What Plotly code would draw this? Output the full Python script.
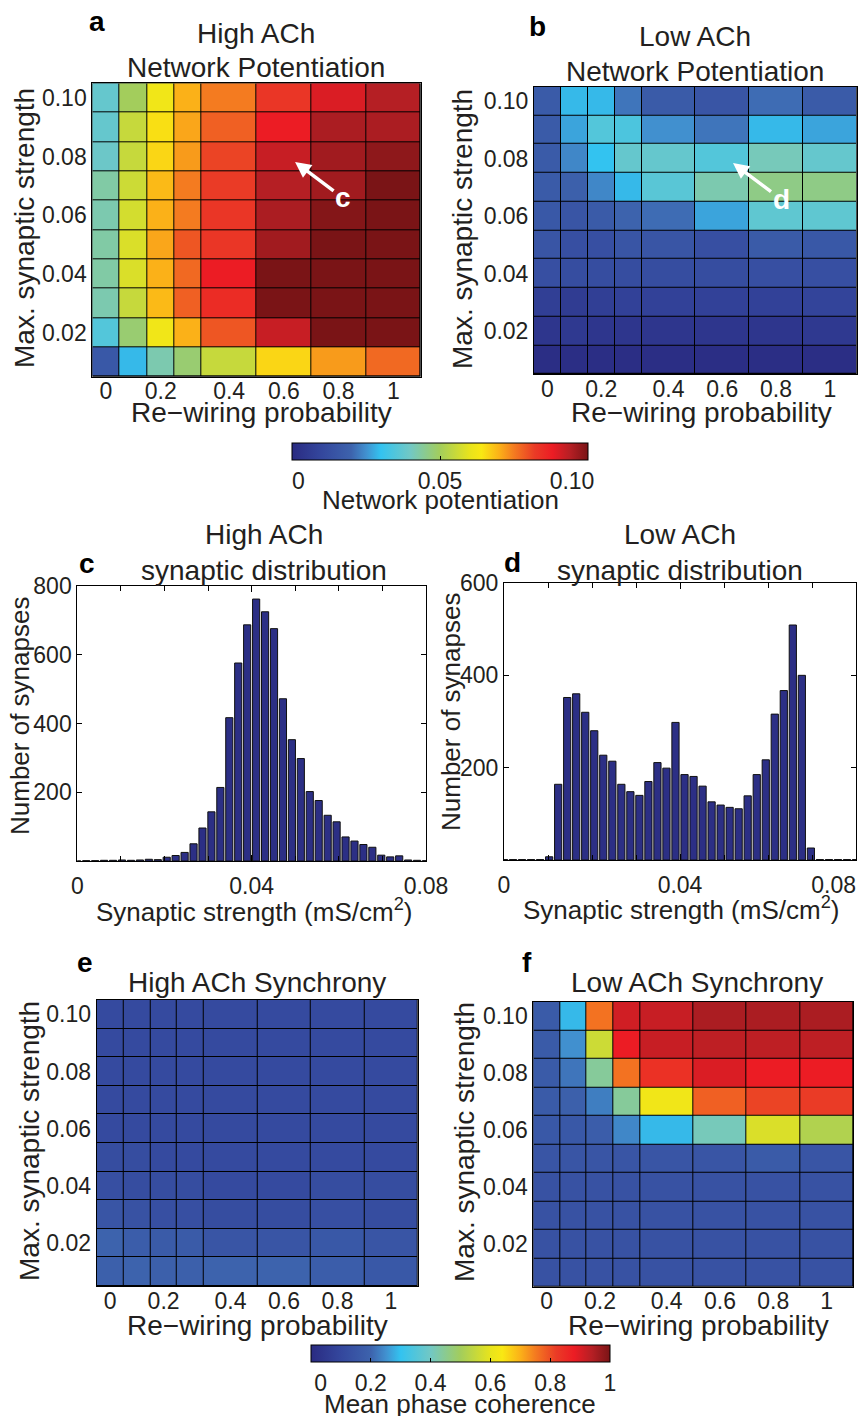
import plotly.graph_objects as go

W, H = 860, 1416

# ---------------- data ----------------
rewire_p = [0, 0.1, 0.2, 0.3, 0.4, 0.6, 0.8, 1.0]
col_widths = [1, 1, 1, 1, 2, 2, 2, 2]          # drawn widths of the columns
max_syn = [0.10, 0.09, 0.08, 0.07, 0.06, 0.05, 0.04, 0.03, 0.02, 0.01]   # rows top -> bottom
x_tick_p = [0, 0.2, 0.4, 0.6, 0.8, 1.0]
x_tick_labels = ["0", "0.2", "0.4", "0.6", "0.8", "1"]
y_tick_vals = [0.02, 0.04, 0.06, 0.08, 0.10]
y_tick_labels = ["0.02", "0.04", "0.06", "0.08", "0.10"]

# network potentiation, rows top (0.10) -> bottom (0.01)
pot_high = [
    [0.038, 0.050, 0.062, 0.070, 0.075, 0.083, 0.090, 0.094],
    [0.038, 0.055, 0.065, 0.071, 0.078, 0.088, 0.095, 0.095],
    [0.039, 0.055, 0.066, 0.072, 0.081, 0.092, 0.096, 0.098],
    [0.043, 0.056, 0.069, 0.075, 0.082, 0.094, 0.096, 0.100],
    [0.042, 0.057, 0.070, 0.075, 0.083, 0.095, 0.099, 0.100],
    [0.043, 0.058, 0.071, 0.079, 0.083, 0.096, 0.100, 0.100],
    [0.043, 0.058, 0.070, 0.077, 0.088, 0.100, 0.100, 0.100],
    [0.042, 0.055, 0.069, 0.078, 0.085, 0.100, 0.100, 0.100],
    [0.035, 0.048, 0.062, 0.070, 0.079, 0.092, 0.100, 0.100],
    [0.016, 0.029, 0.042, 0.048, 0.055, 0.066, 0.072, 0.077],
]
pot_low = [
    [0.017, 0.029, 0.029, 0.022, 0.017, 0.015, 0.021, 0.017],
    [0.017, 0.027, 0.035, 0.034, 0.025, 0.022, 0.029, 0.027],
    [0.017, 0.024, 0.030, 0.038, 0.038, 0.035, 0.041, 0.038],
    [0.017, 0.019, 0.024, 0.029, 0.036, 0.042, 0.046, 0.046],
    [0.016, 0.015, 0.017, 0.020, 0.021, 0.027, 0.037, 0.037],
    [0.015, 0.013, 0.013, 0.015, 0.015, 0.013, 0.017, 0.016],
    [0.013, 0.012, 0.012, 0.012, 0.012, 0.012, 0.013, 0.013],
    [0.007, 0.006, 0.007, 0.008, 0.008, 0.008, 0.008, 0.009],
    [0.004, 0.005, 0.004, 0.004, 0.004, 0.004, 0.004, 0.005],
    [0.001, 0.001, 0.001, 0.001, 0.001, 0.001, 0.001, 0.001],
]
# mean phase coherence
sync_high = [
    [0.11, 0.11, 0.11, 0.11, 0.11, 0.11, 0.11, 0.11],
    [0.11, 0.11, 0.11, 0.11, 0.11, 0.11, 0.11, 0.11],
    [0.11, 0.11, 0.11, 0.11, 0.11, 0.11, 0.11, 0.11],
    [0.11, 0.11, 0.11, 0.11, 0.11, 0.11, 0.11, 0.11],
    [0.11, 0.11, 0.11, 0.11, 0.11, 0.11, 0.11, 0.11],
    [0.12, 0.12, 0.11, 0.11, 0.11, 0.11, 0.11, 0.11],
    [0.13, 0.12, 0.12, 0.12, 0.11, 0.11, 0.12, 0.12],
    [0.15, 0.14, 0.13, 0.13, 0.12, 0.12, 0.13, 0.12],
    [0.20, 0.18, 0.17, 0.17, 0.15, 0.15, 0.16, 0.15],
    [0.19, 0.20, 0.19, 0.19, 0.20, 0.20, 0.18, 0.16],
]
sync_low = [
    [0.17, 0.29, 0.76, 0.91, 0.92, 0.95, 0.95, 0.95],
    [0.17, 0.25, 0.56, 0.88, 0.92, 0.93, 0.93, 0.93],
    [0.17, 0.22, 0.44, 0.76, 0.84, 0.90, 0.88, 0.88],
    [0.17, 0.19, 0.23, 0.44, 0.62, 0.78, 0.81, 0.82],
    [0.16, 0.16, 0.18, 0.24, 0.29, 0.41, 0.58, 0.52],
    [0.15, 0.15, 0.15, 0.15, 0.15, 0.15, 0.17, 0.15],
    [0.14, 0.14, 0.14, 0.14, 0.14, 0.14, 0.14, 0.14],
    [0.14, 0.14, 0.14, 0.14, 0.14, 0.14, 0.14, 0.14],
    [0.14, 0.14, 0.14, 0.14, 0.14, 0.14, 0.14, 0.14],
    [0.14, 0.14, 0.14, 0.14, 0.14, 0.14, 0.14, 0.14],
]

# synaptic strength histograms
hist_bins = [0.0, 0.00205, 0.0041, 0.00615, 0.00821, 0.01026, 0.01231, 0.01436,
             0.01641, 0.01846, 0.02051, 0.02256, 0.02462, 0.02667, 0.02872, 0.03077,
             0.03282, 0.03487, 0.03692, 0.03897, 0.04103, 0.04308, 0.04513, 0.04718,
             0.04923, 0.05128, 0.05333, 0.05538, 0.05744, 0.05949, 0.06154, 0.06359,
             0.06564, 0.06769, 0.06974, 0.07179, 0.07385, 0.0759, 0.07795, 0.08]
hist_high = [0, 1, 1, 2, 2, 3, 2, 3, 5, 4, 11, 16, 25, 50, 96, 143, 214, 417, 576, 687,
             762, 725, 676, 472, 353, 298, 202, 176, 133, 114, 70, 58, 48, 40, 17, 12,
             15, 3, 2, 1]
hist_low = [1, 1, 1, 1, 1, 7, 164, 352, 360, 320, 280, 227, 214, 164, 148, 140, 170,
            211, 199, 298, 185, 181, 160, 126, 119, 114, 111, 139, 185, 217, 316, 367,
            509, 400, 26, 1, 1, 1, 1, 1]
hist_x_ticks = [0, 0.04, 0.08]
hist_x_labels_c = ["0", "0.04", "0.08"]
hist_x_labels_d = ["0", "0.04", "0.08" + "\u00a0" * 7]
pot_cbar_ticks = [0, 0.05, 0.10]
pot_cbar_labels = ["\u00a0\u00a00", "0.05", "0.10" + "\u00a0" * 5]
sync_cbar_ticks = [0, 0.2, 0.4, 0.6, 0.8, 1.0]
sync_cbar_labels = ["\u00a0\u00a0\u00a00", "0.2", "0.4", "0.6", "0.8", "1"]

# ---------------- styling ----------------
FONT = "Liberation Sans, Arial, sans-serif"
TXT = "#231f20"
TICK_SIZE = 23
TITLE_SIZE = 28

cscale = [[0.0, "#2a2b82"], [0.1, "#34479d"], [0.2, "#3d63ad"], [0.25, "#4190cf"],
          [0.3, "#33c3f0"], [0.4, "#72c8c4"], [0.5, "#a3cd5c"], [0.6, "#e8e41c"],
          [0.64, "#f9e813"], [0.7, "#fbb118"], [0.75, "#f47b20"], [0.82, "#ea3b26"],
          [0.88, "#ec1c24"], [0.94, "#b51f24"], [1.0, "#7a1416"]]

# column edges and centres (drawing units)
x_edges = [0]
for w in col_widths:
    x_edges.append(x_edges[-1] + w)
x_centres = [(x_edges[i] + x_edges[i + 1]) / 2 for i in range(len(col_widths))]
tick_pos = [x_centres[rewire_p.index(p)] for p in x_tick_p]
rows_bottom_up = max_syn[::-1]
dy = max_syn[0] - max_syn[1]
y_edges = [rows_bottom_up[0] - dy / 2] + [v + dy / 2 for v in rows_bottom_up]


def xd(l, r):
    return [l / W, r / W]


def yd(t, b):
    return [1 - b / H, 1 - t / H]


panels = {
    "a": dict(x=xd(92.3, 420.7), y=yd(83.3, 376.7)),
    "b": dict(x=xd(534, 856.7), y=yd(86.7, 374)),
    "c": dict(x=xd(77.3, 426), y=yd(586, 861)),
    "d": dict(x=xd(504, 856), y=yd(583, 860)),
    "e": dict(x=xd(96.7, 417.7), y=yd(1000, 1286)),
    "f": dict(x=xd(533.3, 853.3), y=yd(1001.7, 1286.7)),
}

fig = go.Figure()

heat_specs = [("a", pot_high, "coloraxis", ""), ("b", pot_low, "coloraxis", "2"),
              ("e", sync_high, "coloraxis2", "5"), ("f", sync_low, "coloraxis2", "6")]
for name, z, cax, n in heat_specs:
    fig.add_trace(go.Heatmap(z=z[::-1], x=x_edges, y=y_edges, coloraxis=cax,
                             xgap=1, ygap=1, xaxis="x" + n, yaxis="y" + n,
                             hoverinfo="skip"))
    fig.add_shape(type="rect", xref="x" + n + " domain", yref="y" + n + " domain",
                  x0=0, x1=1, y0=0, y1=1, fillcolor="black", line_width=0,
                  layer="below")

for n, counts in [("3", hist_high), ("4", hist_low)]:
    fig.add_trace(go.Bar(x=hist_bins, y=counts, xaxis="x" + n, yaxis="y" + n,
                         marker=dict(color="#2c2f85", line=dict(color="#111111", width=1)),
                         hoverinfo="skip"))

axis_common = dict(showline=True, linecolor="black", linewidth=1, mirror=True,
                   showgrid=False, zeroline=False,
                   tickfont=dict(family=FONT, size=TICK_SIZE, color=TXT))

heat_x = dict(axis_common, range=[x_edges[0], x_edges[-1]], tickvals=tick_pos,
              ticktext=x_tick_labels, ticks="", ticklabelstandoff=-6)
heat_y = dict(axis_common, range=[y_edges[0], y_edges[-1]], tickvals=y_tick_vals,
              ticktext=y_tick_labels, ticks="")

layout = dict(width=W, height=H, margin=dict(l=0, r=0, t=0, b=0, autoexpand=False),
              paper_bgcolor="white", plot_bgcolor="white", showlegend=False,
              bargap=0.2)

for key, n in [("a", ""), ("b", "2"), ("e", "5"), ("f", "6")]:
    layout["xaxis" + n] = dict(heat_x, domain=panels[key]["x"], anchor="y" + n)
    layout["yaxis" + n] = dict(heat_y, domain=panels[key]["y"], anchor="x" + n)

for key, n, ymax, ytv, xlab in [("c", "3", 800, [200, 400, 600, 800], hist_x_labels_c),
                                ("d", "4", 600, [200, 400, 600], hist_x_labels_d)]:
    layout["xaxis" + n] = dict(axis_common, domain=panels[key]["x"], anchor="y" + n,
                               range=[0, 0.08], tickvals=hist_x_ticks,
                               ticktext=xlab, ticks="inside", ticklen=6,
                               tickcolor="black", mirror="ticks",
                               ticklabelstandoff=4, ticklabeloverflow="allow",
                               minor=dict(ticks="inside", dtick=0.01, ticklen=5,
                                          tickcolor="black"))
    layout["yaxis" + n] = dict(axis_common, domain=panels[key]["y"], anchor="x" + n,
                               range=[0, ymax], tickvals=ytv, ticks="inside",
                               ticklen=5, tickcolor="black", mirror="ticks")

cbar_common = dict(orientation="h", lenmode="pixels", thicknessmode="pixels",
                   thickness=17, xanchor="left", yanchor="top", xpad=0, ypad=0,
                   outlinecolor="black", outlinewidth=1, ticks="inside", ticklen=4,
                   tickcolor="black", ticklabeloverflow="allow",
                   tickfont=dict(family=FONT, size=TICK_SIZE, color=TXT))
layout["coloraxis"] = dict(colorscale=cscale, cmin=0, cmax=0.10,
                           colorbar=dict(cbar_common, x=292 / W, y=1 - 443 / H, len=296,
                                         tickvals=pot_cbar_ticks, ticktext=pot_cbar_labels))
layout["coloraxis2"] = dict(colorscale=cscale, cmin=0, cmax=1.0,
                            colorbar=dict(cbar_common, x=311 / W, y=1 - 1345 / H, len=299,
                                          tickvals=sync_cbar_ticks, ticktext=sync_cbar_labels))

fig.update_layout(**layout)


def text(px, py, s, size=TITLE_SIZE, bold=False, angle=0, color=TXT):
    fig.add_annotation(x=px / W, y=1 - py / H, xref="paper", yref="paper",
                       text=("<b>%s</b>" % s) if bold else s, showarrow=False,
                       textangle=angle, xanchor="center", yanchor="middle",
                       font=dict(family=FONT, size=size, color=color))


# panel letters
for s, px, py in [("a", 97, 22), ("b", 537, 27), ("c", 87, 563), ("d", 512, 562),
                  ("e", 85, 962), ("f", 527, 962)]:
    text(px, py, s, size=28, bold=True, color="black")

# titles
text(256, 33, "High ACh")
text(256, 68, "Network Potentiation")
text(695, 37, "Low ACh")
text(695, 71, "Network Potentiation")
text(264, 535, "High ACh")
text(264, 570, "synaptic distribution")
text(680, 535, "Low ACh")
text(680, 570, "synaptic distribution")
text(257, 982, "High ACh Synchrony")
text(697, 982, "Low ACh Synchrony")

# axis titles
text(24, 228, "Max. synaptic strength", angle=-90)
text(462, 229, "Max. synaptic strength", angle=-90)
text(29, 1141, "Max. synaptic strength", angle=-90)
text(464, 1142, "Max. synaptic strength", angle=-90)
text(261, 412, "Re\u2212wiring probability")
text(701, 412, "Re\u2212wiring probability")
text(257, 1325, "Re\u2212wiring probability")
text(698, 1325, "Re\u2212wiring probability")
text(20, 716, "Number of synapses", size=26, angle=-90)
text(451, 712, "Number of synapses", size=26, angle=-90)
text(254, 910, "Synaptic strength (mS/cm<sup>2</sup>)", size=26)
text(681, 908, "Synaptic strength (mS/cm<sup>2</sup>)", size=26)
text(440, 500, "Network potentiation", size=26)
text(460, 1404, "Mean phase coherence", size=26)

# arrows
for lbl, n, xh, yh in [("c", "", 7.41, 0.0782), ("d", "2", 7.4, 0.0784)]:
    fig.add_annotation(x=xh, y=yh, xref="x" + n, yref="y" + n, ax=48, ay=36,
                       text="<b>%s</b>" % lbl, showarrow=True, arrowhead=2,
                       arrowsize=0.9, arrowwidth=3.5, arrowcolor="white",
                       font=dict(family=FONT, size=28, color="white"))

fig.write_html("out.html", config={"displayModeBar": False},
               post_script="document.body.style.margin='0';")
